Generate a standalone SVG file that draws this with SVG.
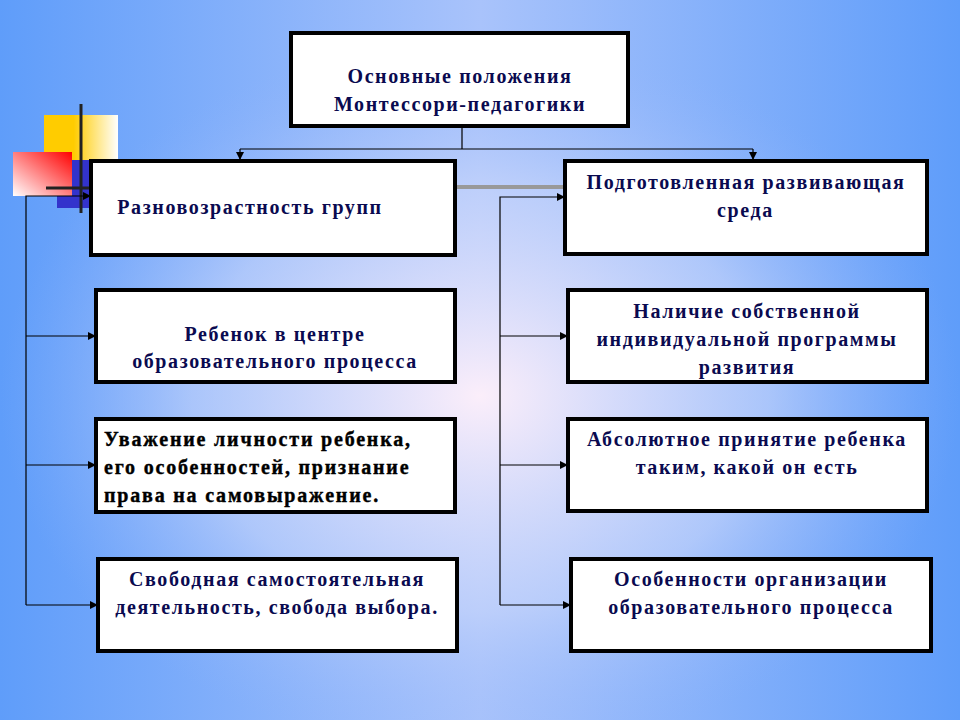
<svg xmlns="http://www.w3.org/2000/svg" width="960" height="720" viewBox="0 0 960 720">
<defs>
<linearGradient id="bg" x1="0" y1="0" x2="1" y2="0"><stop offset="0" stop-color="#5f9dfa"/><stop offset="0.5" stop-color="#a9c3fb"/><stop offset="1" stop-color="#5f9dfa"/></linearGradient>
<radialGradient id="glow" cx="0.5" cy="0.55" r="0.5"><stop offset="0" stop-color="#fbeefa" stop-opacity="1"/><stop offset="0.6" stop-color="#c9d6fb" stop-opacity="0.6"/><stop offset="1" stop-color="#8fb3fa" stop-opacity="0"/></radialGradient>
<linearGradient id="yel" x1="0" x2="1"><stop offset="0.4" stop-color="#ffcc00"/><stop offset="1" stop-color="#ffffff"/></linearGradient>
<linearGradient id="red" x1="1" y1="0" x2="0" y2="1"><stop offset="0" stop-color="#ff0000"/><stop offset="1" stop-color="#ffffff"/></linearGradient>
<marker id="ar" markerWidth="8" markerHeight="8" refX="7" refY="4" orient="auto" markerUnits="userSpaceOnUse"><path d="M0,0L8,4L0,8z" fill="#000"/></marker>
<style>
.box{fill:#fff;stroke:#000;stroke-width:4}
.t{font-family:'Liberation Serif','DejaVu Serif','Times New Roman',serif;font-weight:bold;font-size:20px;letter-spacing:1.6px;fill:#0a0a50;text-anchor:middle}
.s{text-anchor:start;fill:#000;stroke:#000;stroke-width:0.4;letter-spacing:1.8px}
.c{fill:none;stroke:#000;stroke-width:1.2}
</style>
</defs>
<rect width="960" height="720" fill="url(#bg)"/>
<rect width="960" height="720" fill="url(#glow)"/>
<g id="deco">
<rect x="44" y="115" width="74" height="45" fill="url(#yel)"/>
<rect x="57" y="160" width="33" height="48" fill="#3333cc"/>
<rect x="13" y="152" width="59" height="44" fill="url(#red)"/>
<line x1="81" y1="104" x2="81" y2="213" stroke="#222" stroke-width="3"/>
<line x1="46" y1="188" x2="92" y2="188" stroke="#222" stroke-width="3"/>
</g>
<g id="connectors">
<line x1="455" y1="187" x2="565" y2="187" stroke="#999" stroke-width="4"/>
<path class="c" d="M462,126V149M240,149H753"/>
<path class="c" d="M240,149V159" marker-end="url(#ar)"/>
<path class="c" d="M753,149V159" marker-end="url(#ar)"/>
<path class="c" d="M26,605V196H90" marker-end="url(#ar)"/>
<path class="c" d="M26,336H95" marker-end="url(#ar)"/>
<path class="c" d="M26,465H95" marker-end="url(#ar)"/>
<path class="c" d="M26,605H97" marker-end="url(#ar)"/>
<path class="c" d="M500,605V197H564" marker-end="url(#ar)"/>
<path class="c" d="M500,336H567" marker-end="url(#ar)"/>
<path class="c" d="M500,465H567" marker-end="url(#ar)"/>
<path class="c" d="M500,605H570" marker-end="url(#ar)"/>
</g>
<g id="n0"><rect class="box" x="291" y="33" width="337" height="93"/><text class="t" x="460" y="83">Основные положения</text><text class="t" x="460" y="111">Монтессори-педагогики</text></g>
<g id="n1"><rect class="box" x="91" y="161" width="364" height="94"/><text class="t" x="250" y="214">Разновозрастность групп</text></g>
<g id="n2"><rect class="box" x="96" y="290" width="359" height="92"/><text class="t" x="275" y="341">Ребенок в центре</text><text class="t" x="275" y="368">образовательного процесса</text></g>
<g id="n3"><rect class="box" x="96" y="419" width="359" height="93"/><text class="t s" x="104" y="446">Уважение личности ребенка,</text><text class="t s" x="104" y="474">его особенностей, признание</text><text class="t s" x="104" y="502">права на самовыражение.</text></g>
<g id="n4"><rect class="box" x="98" y="559" width="359" height="92"/><text class="t" x="277" y="586">Свободная самостоятельная</text><text class="t" x="277" y="614">деятельность, свобода выбора.</text></g>
<g id="n5"><rect class="box" x="565" y="161" width="362" height="93"/><text class="t" x="746" y="189">Подготовленная развивающая</text><text class="t" x="717" y="217" style="text-anchor:start">среда</text></g>
<g id="n6"><rect class="box" x="568" y="290" width="359" height="92"/><text class="t" x="747" y="318">Наличие собственной</text><text class="t" x="747" y="346">индивидуальной программы</text><text class="t" x="747" y="374">развития</text></g>
<g id="n7"><rect class="box" x="568" y="419" width="359" height="92"/><text class="t" x="747" y="446">Абсолютное принятие ребенка</text><text class="t" x="747" y="474">таким, какой он есть</text></g>
<g id="n8"><rect class="box" x="571" y="559" width="360" height="92"/><text class="t" x="751" y="586">Особенности организации</text><text class="t" x="751" y="614">образовательного процесса</text></g>
</svg>
